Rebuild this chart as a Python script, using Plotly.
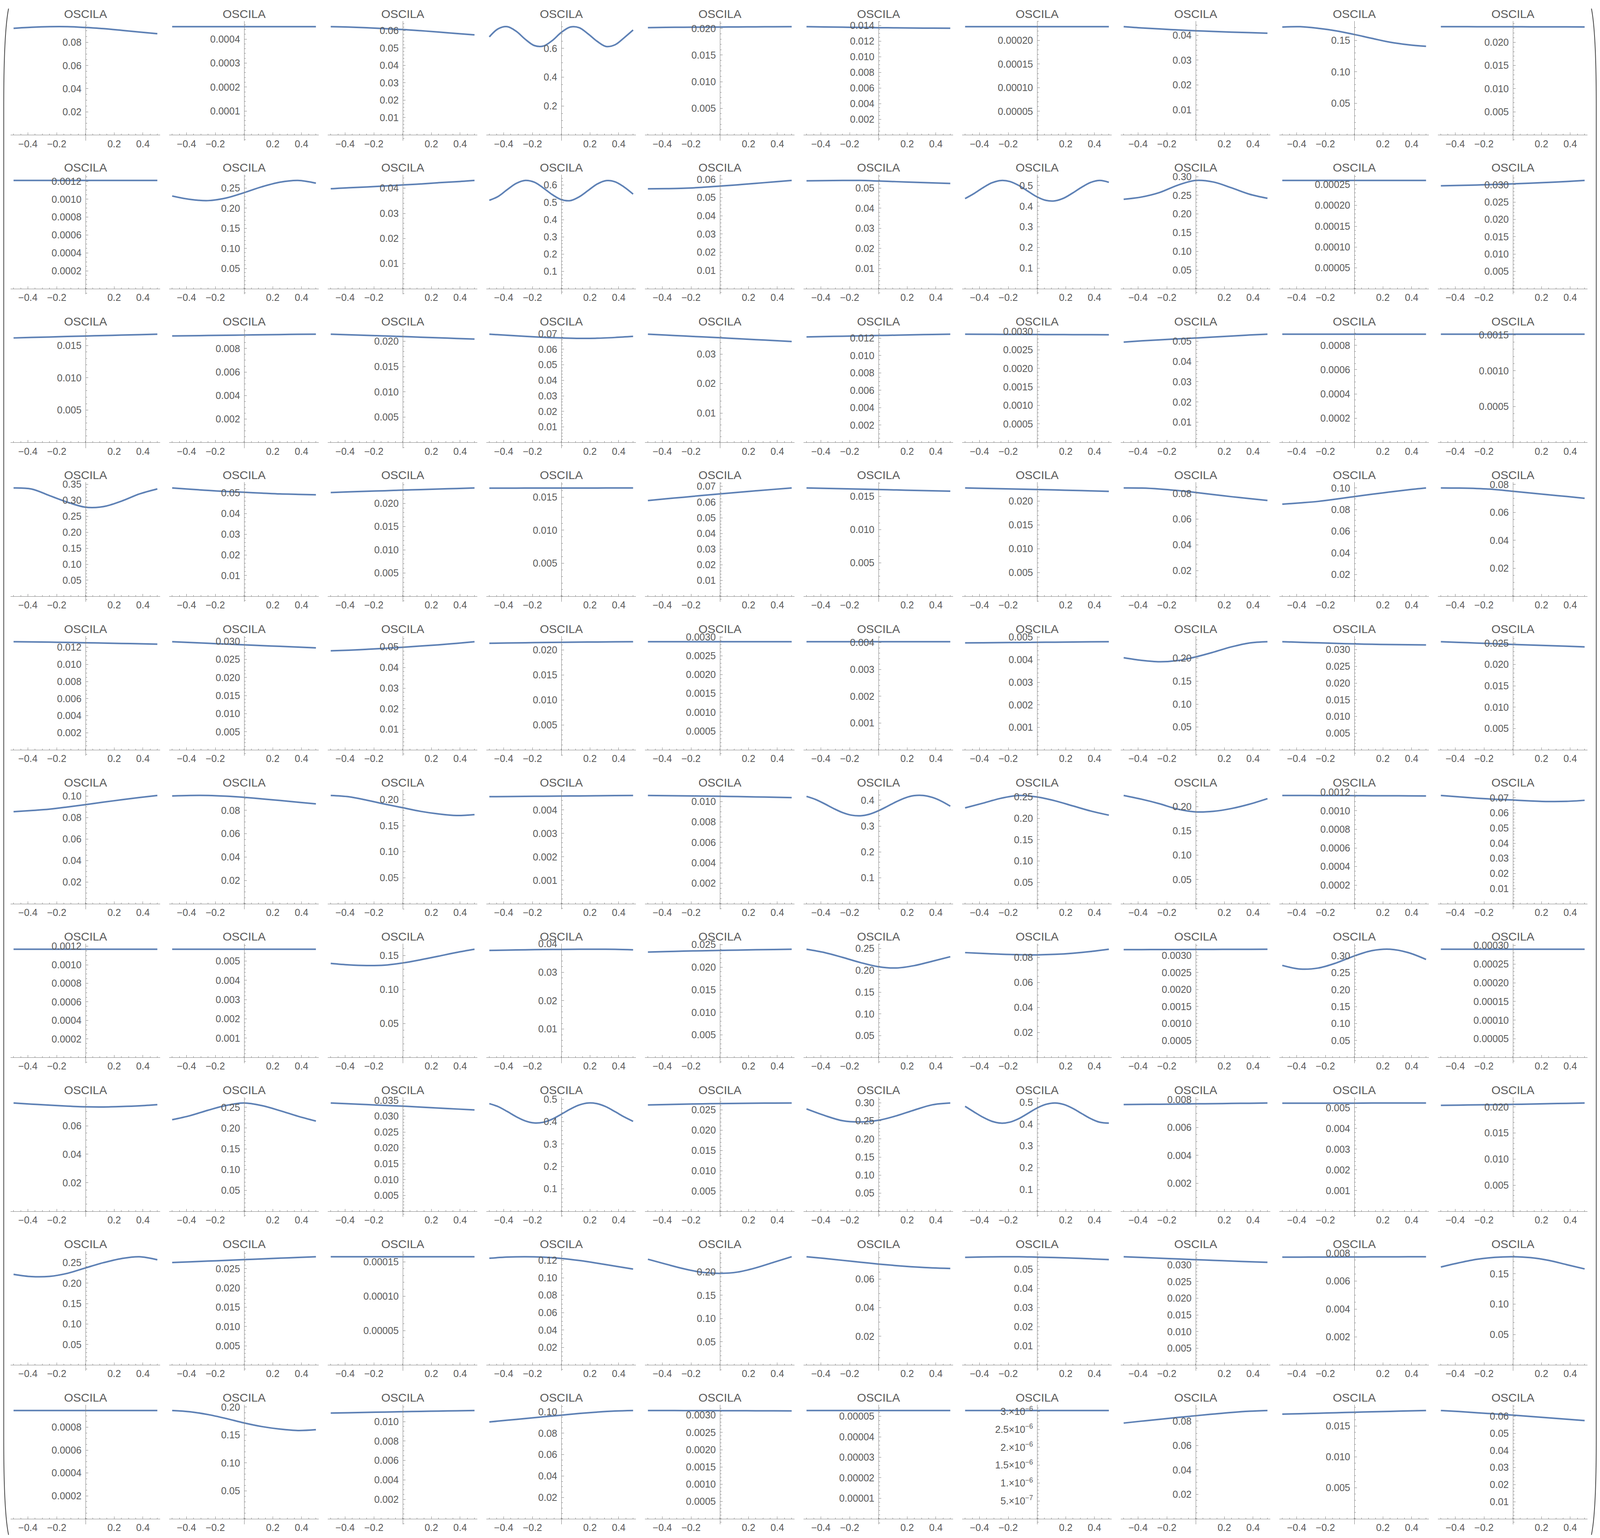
import math
import plotly.graph_objects as go

# sample positions on the x axis
X9 = [-0.5, -0.375, -0.25, -0.125, 0.0, 0.125, 0.25, 0.375, 0.5]
X17 = [-0.5, -0.4375, -0.375, -0.3125, -0.25, -0.1875, -0.125, -0.0625, 0.0,
       0.0625, 0.125, 0.1875, 0.25, 0.3125, 0.375, 0.4375, 0.5]

# curve values, one list per panel, one name per row
curves_row1 = [
    [0.0922, 0.0931, 0.0936, 0.0936, 0.0929, 0.0919, 0.0905, 0.0890, 0.0875],
    [0.000452, 0.000452, 0.000452, 0.000452, 0.000452, 0.000452, 0.000452, 0.000452, 0.000452],
    [0.0623, 0.0621, 0.0617, 0.0612, 0.0607, 0.0600, 0.0592, 0.0584, 0.0576],
    [0.680, 0.7367, 0.7506, 0.7185, 0.6633, 0.6200, 0.6160, 0.6542, 0.7104,
     0.7481, 0.7439, 0.7002, 0.6491, 0.6134, 0.6253, 0.6736, 0.7275],
    [0.02015, 0.02020, 0.02023, 0.02025, 0.02026, 0.02028, 0.02030, 0.02032, 0.02033],
    [0.01385, 0.01382, 0.01379, 0.01375, 0.01372, 0.01370, 0.01368, 0.01366, 0.01365],
    [0.000229, 0.000229, 0.000229, 0.000229, 0.000229, 0.000229, 0.000229, 0.000229, 0.000229],
    [0.0434, 0.0429, 0.0425, 0.0421, 0.04175, 0.0415, 0.0412, 0.0410, 0.0408],
    [0.1710, 0.1716, 0.1690, 0.1650, 0.1593, 0.1530, 0.1470, 0.1430, 0.1405],
    [0.02338, 0.02338, 0.02337, 0.02336, 0.02336, 0.02335, 0.02334, 0.02334, 0.02333],
]
curves_row2 = [
    [0.00121, 0.00121, 0.00121, 0.00121, 0.00121, 0.00121, 0.00121, 0.00121, 0.00121],
    [0.2304, 0.2220, 0.2190, 0.2255, 0.2387, 0.2534, 0.2647, 0.2691, 0.2623],
    [0.0398, 0.0402, 0.0405, 0.0409, 0.0413, 0.0417, 0.0422, 0.0426, 0.0431],
    [0.512, 0.535, 0.574, 0.610, 0.627, 0.617, 0.584, 0.545, 0.516,
     0.510, 0.532, 0.569, 0.606, 0.626, 0.619, 0.589, 0.548],
    [0.0548, 0.0549, 0.0551, 0.0556, 0.0563, 0.0570, 0.0578, 0.0586, 0.0594],
    [0.0536, 0.0537, 0.0538, 0.0538, 0.0535, 0.0532, 0.0529, 0.0526, 0.0523],
    [0.437, 0.4615, 0.490, 0.5138, 0.5247, 0.5197, 0.500, 0.4725, 0.4456,
     0.4283, 0.4262, 0.4397, 0.465, 0.4929, 0.5158, 0.525, 0.516],
    [0.2394, 0.2455, 0.2575, 0.2770, 0.2898, 0.2855, 0.2700, 0.2530, 0.2420],
    [0.00026, 0.00026, 0.00026, 0.00026, 0.00026, 0.00026, 0.00026, 0.00026, 0.00026],
    [0.02971, 0.02983, 0.02995, 0.03011, 0.03029, 0.03048, 0.03070, 0.03096, 0.03126],
]
curves_row3 = [
    [0.01616, 0.01624, 0.01631, 0.01639, 0.01646, 0.01653, 0.01660, 0.01667, 0.01674],
    [0.00907, 0.00909, 0.00911, 0.00913, 0.00915, 0.00917, 0.00919, 0.00921, 0.00922],
    [0.02141, 0.02130, 0.02118, 0.02106, 0.02094, 0.02082, 0.02069, 0.02057, 0.02044],
    [0.0697, 0.0690, 0.0683, 0.0677, 0.0673, 0.0670, 0.0671, 0.0676, 0.0683],
    [0.03677, 0.03647, 0.03617, 0.03587, 0.03557, 0.03525, 0.03493, 0.03461, 0.03429],
    [0.01214, 0.01218, 0.01222, 0.01226, 0.01230, 0.01234, 0.01238, 0.01242, 0.01245],
    [0.002925, 0.002923, 0.002921, 0.002919, 0.002917, 0.002915, 0.002913, 0.002911, 0.002909],
    [0.0496, 0.0502, 0.0507, 0.0512, 0.0516, 0.0521, 0.0526, 0.0531, 0.0535],
    [0.000892, 0.000892, 0.000892, 0.000892, 0.000892, 0.000892, 0.000892, 0.000892, 0.000892],
    [0.00151, 0.00151, 0.00151, 0.00151, 0.00151, 0.00151, 0.00151, 0.00151, 0.00151],
]
curves_row4 = [
    [0.3389, 0.3355, 0.3150, 0.2945, 0.2786, 0.2805, 0.2975, 0.3200, 0.3358],
    [0.0524, 0.0518, 0.0512, 0.0507, 0.0503, 0.0499, 0.0495, 0.0493, 0.0491],
    [0.02234, 0.02247, 0.02260, 0.02272, 0.02285, 0.02297, 0.02309, 0.02320, 0.02332],
    [0.01637, 0.01637, 0.01638, 0.01638, 0.01638, 0.01639, 0.01639, 0.01640, 0.01640],
    [0.0610, 0.0621, 0.0631, 0.0642, 0.0652, 0.0662, 0.0672, 0.0681, 0.0690],
    [0.01628, 0.01622, 0.01616, 0.01610, 0.01604, 0.01598, 0.01592, 0.01586, 0.01580],
    [0.02279, 0.02271, 0.02262, 0.02254, 0.02246, 0.02237, 0.02228, 0.02218, 0.02208],
    [0.0843, 0.0842, 0.0835, 0.0823, 0.0808, 0.0791, 0.0775, 0.0760, 0.0746],
    [0.0850, 0.0862, 0.0876, 0.0897, 0.0920, 0.0942, 0.0963, 0.0983, 0.1000],
    [0.0775, 0.0774, 0.0771, 0.0764, 0.0751, 0.0739, 0.0726, 0.0714, 0.0701],
]
curves_row5 = [
    [0.01265, 0.01263, 0.01260, 0.01257, 0.01253, 0.01249, 0.01245, 0.01241, 0.01237],
    [0.02989, 0.02967, 0.02945, 0.02923, 0.02902, 0.02881, 0.02861, 0.02840, 0.02820],
    [0.0481, 0.0484, 0.0488, 0.0493, 0.0498, 0.0504, 0.0510, 0.0517, 0.0525],
    [0.02131, 0.02137, 0.02142, 0.02147, 0.02151, 0.02155, 0.02158, 0.02161, 0.02163],
    [0.002874, 0.002874, 0.002874, 0.002874, 0.002874, 0.002874, 0.002874, 0.002874, 0.002874],
    [0.00403, 0.00403, 0.00403, 0.00403, 0.00403, 0.00403, 0.00403, 0.00403, 0.00403],
    [0.004745, 0.004752, 0.004758, 0.004765, 0.004772, 0.004778, 0.004785, 0.004792, 0.004798],
    [0.2013, 0.1955, 0.1925, 0.1950, 0.2030, 0.2135, 0.2250, 0.2335, 0.2362],
    [0.03237, 0.03220, 0.03204, 0.03187, 0.03172, 0.03160, 0.03151, 0.03146, 0.03142],
    [0.02532, 0.02517, 0.02501, 0.02485, 0.02468, 0.02454, 0.02440, 0.02426, 0.02412],
]
curves_row6 = [
    [0.0855, 0.0866, 0.0879, 0.0899, 0.0921, 0.0944, 0.0966, 0.0987, 0.1006],
    [0.0924, 0.0928, 0.0928, 0.0922, 0.0912, 0.0899, 0.0885, 0.0870, 0.0856],
    [0.2080, 0.2055, 0.1990, 0.1915, 0.1845, 0.1775, 0.1725, 0.1695, 0.1712],
    [0.004566, 0.004572, 0.004578, 0.004585, 0.004591, 0.004598, 0.004604, 0.004611, 0.004617],
    [0.01059, 0.01057, 0.01055, 0.01053, 0.01051, 0.01048, 0.01045, 0.01042, 0.01038],
    [0.4148, 0.4031, 0.3864, 0.3682, 0.3524, 0.3422, 0.3399, 0.3459, 0.3592,
     0.3763, 0.3943, 0.4092, 0.4178, 0.4183, 0.4108, 0.3965, 0.3770],
    [0.2245, 0.2355, 0.2470, 0.2535, 0.2500, 0.2410, 0.2290, 0.2170, 0.2074],
    [0.2232, 0.2154, 0.2061, 0.1951, 0.1894, 0.1906, 0.1963, 0.2053, 0.2167],
    [0.001165, 0.001165, 0.001164, 0.001164, 0.001163, 0.001162, 0.001162, 0.001161, 0.00116],
    [0.0716, 0.0707, 0.0698, 0.0691, 0.0686, 0.0680, 0.0676, 0.0677, 0.0684],
]
curves_row7 = [
    [0.001168, 0.001168, 0.001168, 0.001168, 0.001168, 0.001168, 0.001168, 0.001168, 0.001168],
    [0.00561, 0.00561, 0.00561, 0.00561, 0.00561, 0.00561, 0.00561, 0.00561, 0.00561],
    [0.1384, 0.1362, 0.1352, 0.1358, 0.1390, 0.1437, 0.1490, 0.1545, 0.1592],
    [0.03769, 0.03780, 0.03790, 0.03798, 0.03804, 0.03809, 0.03810, 0.03805, 0.03790],
    [0.02337, 0.02347, 0.02357, 0.02365, 0.02373, 0.02380, 0.02387, 0.02393, 0.02399],
    [0.2486, 0.2410, 0.2300, 0.2180, 0.2085, 0.2055, 0.2110, 0.2210, 0.2314],
    [0.0839, 0.0832, 0.0826, 0.0822, 0.0821, 0.0825, 0.0834, 0.0848, 0.0866],
    [0.003174, 0.003175, 0.003177, 0.003178, 0.003180, 0.003181, 0.003183, 0.003184, 0.003186],
    [0.2719, 0.2611, 0.2641, 0.2791, 0.2996, 0.3155, 0.3196, 0.3098, 0.2895],
    [0.00029, 0.00029, 0.00029, 0.00029, 0.00029, 0.00029, 0.00029, 0.00029, 0.00029],
]
curves_row8 = [
    [0.0760, 0.0752, 0.0745, 0.0738, 0.0733, 0.0732, 0.0735, 0.0740, 0.0748],
    [0.2202, 0.2300, 0.2430, 0.2545, 0.2604, 0.2540, 0.2420, 0.2285, 0.2169],
    [0.03419, 0.03393, 0.03368, 0.03343, 0.03319, 0.03289, 0.03259, 0.03229, 0.03200],
    [0.4810, 0.4672, 0.4456, 0.4223, 0.4038, 0.3946, 0.3975, 0.4116, 0.4332,
     0.4563, 0.4748, 0.4838, 0.4807, 0.4667, 0.4448, 0.4217, 0.4018],
    [0.02622, 0.02632, 0.02641, 0.02649, 0.02656, 0.02661, 0.02665, 0.02668, 0.02670],
    [0.2830, 0.2650, 0.2505, 0.2470, 0.2516, 0.2640, 0.2800, 0.2945, 0.2995],
    [0.4820, 0.4562, 0.4317, 0.4130, 0.4047, 0.4096, 0.4260, 0.4498, 0.4741,
     0.4912, 0.4974, 0.4903, 0.4723, 0.4482, 0.4250, 0.4089, 0.4048],
    [0.007645, 0.00766, 0.00767, 0.00768, 0.0077, 0.00771, 0.00773, 0.00774, 0.00776],
    [0.00522, 0.00522, 0.00522, 0.00522, 0.00522, 0.00523, 0.00523, 0.00523, 0.00523],
    [0.02030, 0.02035, 0.02040, 0.02044, 0.02049, 0.02055, 0.02062, 0.02069, 0.02076],
]
curves_row9 = [
    [0.2216, 0.2160, 0.2165, 0.2240, 0.2372, 0.2500, 0.2600, 0.2645, 0.2571],
    [0.02661, 0.02680, 0.02699, 0.02718, 0.02737, 0.02756, 0.02775, 0.02793, 0.02812],
    [0.0001573, 0.0001573, 0.0001573, 0.0001573, 0.0001573, 0.0001573, 0.0001573, 0.0001573, 0.0001573],
    [0.1224, 0.1237, 0.1241, 0.1236, 0.1222, 0.1198, 0.1167, 0.1133, 0.1100],
    [0.2275, 0.2170, 0.2070, 0.1995, 0.1972, 0.2000, 0.2090, 0.2210, 0.2329],
    [0.0756, 0.0744, 0.0731, 0.0718, 0.0705, 0.0694, 0.0685, 0.0678, 0.0674],
    [0.0563, 0.0565, 0.0566, 0.0566, 0.0564, 0.0562, 0.0559, 0.0555, 0.0551],
    [0.03244, 0.03222, 0.03200, 0.03178, 0.03157, 0.03136, 0.03115, 0.03095, 0.03076],
    [0.00771, 0.007714, 0.007718, 0.007721, 0.007725, 0.007729, 0.007732, 0.007736, 0.00774],
    [0.1611, 0.1680, 0.1738, 0.1770, 0.1780, 0.1765, 0.1720, 0.1650, 0.1580],
]
curves_row10 = [
    [0.000946, 0.000946, 0.000946, 0.000946, 0.000946, 0.000946, 0.000946, 0.000946, 0.000946],
    [0.1938, 0.1915, 0.1865, 0.1795, 0.1716, 0.1650, 0.1605, 0.1580, 0.1595],
    [0.01088, 0.01091, 0.01095, 0.01098, 0.01102, 0.01105, 0.01108, 0.01111, 0.01114],
    [0.0906, 0.0922, 0.0938, 0.0954, 0.0969, 0.0985, 0.0998, 0.1008, 0.1013],
    [0.003136, 0.003135, 0.003134, 0.003133, 0.003131, 0.00313, 0.003128, 0.003127, 0.003125],
    [5.284e-05, 5.284e-05, 5.284e-05, 5.284e-05, 5.284e-05, 5.284e-05, 5.284e-05, 5.284e-05, 5.284e-05],
    [3.03e-06, 3.03e-06, 3.03e-06, 3.03e-06, 3.03e-06, 3.03e-06, 3.03e-06, 3.03e-06, 3.03e-06],
    [0.0784, 0.0800, 0.0815, 0.0830, 0.0844, 0.0858, 0.0871, 0.0881, 0.0887],
    [0.01692, 0.01699, 0.01707, 0.01715, 0.01723, 0.01730, 0.01737, 0.01744, 0.01751],
    [0.0634, 0.0628, 0.0621, 0.0614, 0.0607, 0.0599, 0.0591, 0.0583, 0.0575],
]

# spacing between labelled y ticks in each panel
ystep_rows = [
    [0.02, 0.0001, 0.01, 0.2, 0.005, 0.002, 0.00005, 0.01, 0.05, 0.005],
    [0.0002, 0.05, 0.01, 0.1, 0.01, 0.01, 0.1, 0.05, 0.00005, 0.005],
    [0.005, 0.002, 0.005, 0.01, 0.01, 0.002, 0.0005, 0.01, 0.0002, 0.0005],
    [0.05, 0.01, 0.005, 0.005, 0.01, 0.005, 0.005, 0.02, 0.02, 0.02],
    [0.002, 0.005, 0.01, 0.005, 0.0005, 0.001, 0.001, 0.05, 0.005, 0.005],
    [0.02, 0.02, 0.05, 0.001, 0.002, 0.1, 0.05, 0.05, 0.0002, 0.01],
    [0.0002, 0.001, 0.05, 0.01, 0.005, 0.05, 0.02, 0.0005, 0.05, 0.00005],
    [0.02, 0.05, 0.005, 0.1, 0.005, 0.05, 0.1, 0.002, 0.001, 0.005],
    [0.05, 0.005, 0.00005, 0.02, 0.05, 0.02, 0.01, 0.005, 0.002, 0.05],
    [0.0002, 0.05, 0.002, 0.02, 0.0005, 0.00001, 5e-7, 0.02, 0.005, 0.01],
]

x_tickvals = [-0.4, -0.2, 0.2, 0.4]
x_ticktext = ["\u22120.4", "\u22120.2", "0.2", "0.4"]
panel_title = "OSCILA"

curve_rows = [curves_row1, curves_row2, curves_row3, curves_row4, curves_row5,
              curves_row6, curves_row7, curves_row8, curves_row9, curves_row10]

# layout measured on the 5287 x 3936 reference; the width follows the window
W, H, OFF = 5271, 3920, 8
COL0, COL_PITCH, PANEL_W = 33, 524.5, 494.5
ROW0, ROW_PITCH, PANEL_H = 40, 394.9, 307
PAD = 0.052
BLUE = "#5E81B5"
TXT = "#5a5a5a"
AXC = "#808080"
FONT = "Liberation Sans, Arial, sans-serif"


def fx(p):
    return (p - OFF) / W


def fy(p):
    return 1 - (p - OFF) / H


def decimals(step):
    s = f"{step:.10f}".rstrip("0")
    return len(s.split(".")[1])


def tick_label(v, step):
    if step < 1e-5:
        e = int(math.floor(math.log10(v) + 1e-9))
        m = f"{v / 10 ** e:.1f}".rstrip("0")
        return f"{m}\u00d710<sup>\u2212{-e}</sup>"
    return f"{v:.{decimals(step)}f}"


fig = go.Figure()
axes = {}
notes = []

for r in range(10):
    for c in range(10):
        n = r * 10 + c + 1
        ys = curve_rows[r][c]
        xs = X17 if len(ys) == 17 else X9
        fig.add_trace(go.Scatter(
            x=xs, y=ys, mode="lines",
            line=dict(color=BLUE, width=4, shape="spline", smoothing=1),
            xaxis=f"x{n}", yaxis=f"y{n}",
            showlegend=False, hoverinfo="skip",
        ))

        left = COL0 + COL_PITCH * c
        right = left + PANEL_W
        top = ROW0 + ROW_PITCH * r
        bottom = top + PANEL_H

        ym = max(ys)
        lo, hi = -PAD * ym, (1 + PAD) * ym
        step = ystep_rows[r][c]
        nt = int(hi / step + 1e-9)
        yvals = [k * step for k in range(1, nt + 1)]
        ytext = [tick_label(v, step) for v in yvals]
        lead = int(f"{step:e}"[0])
        sub = 4 if lead == 2 else 5

        dom_x = [fx(left), fx(right)]
        dom_y = [fy(bottom), fy(top)]
        zero_y = dom_y[0] + (0 - lo) / (hi - lo) * (dom_y[1] - dom_y[0])

        axes["xaxis" if n == 1 else f"xaxis{n}"] = dict(
            domain=dom_x, range=[-0.52, 0.52], anchor="free", position=zero_y,
            showgrid=False, zeroline=False, showline=True, linecolor=AXC, linewidth=1.3,
            tickmode="array", tickvals=x_tickvals, ticktext=x_ticktext,
            ticks="inside", ticklen=6, tickwidth=1, tickcolor=AXC,
            minor=dict(ticks="inside", dtick=0.05, tick0=0, ticklen=3, tickwidth=1, tickcolor=AXC),
            tickfont=dict(family=FONT, size=25, color=TXT), ticklabelstandoff=0,
            fixedrange=True,
        )
        axes["yaxis" if n == 1 else f"yaxis{n}"] = dict(
            domain=dom_y, range=[lo, hi], anchor="free", position=(dom_x[0] + dom_x[1]) / 2,
            showgrid=False, zeroline=False, showline=True, linecolor=AXC, linewidth=1.3,
            tickmode="array", tickvals=yvals, ticktext=ytext,
            ticks="inside", ticklen=6, tickwidth=1, tickcolor=AXC,
            minor=dict(ticks="inside", dtick=step / sub, tick0=0, ticklen=3, tickwidth=1, tickcolor=AXC),
            tickfont=dict(family=FONT, size=25, color=TXT), ticklabelstandoff=5,
            fixedrange=True,
        )
        notes.append(dict(
            text=panel_title, x=(dom_x[0] + dom_x[1]) / 2, y=fy(top - 18.5),
            xref="paper", yref="paper", xanchor="center", yanchor="middle",
            showarrow=False, font=dict(family=FONT, size=30, color=TXT),
        ))


def paren(x_end, x_side):
    pts = [(x_end, 8), (x_side, 70), (x_side, 260), (x_side, 3680), (x_side, 3870), (x_end, 3928)]
    p = [(fx(a), fy(b)) for a, b in pts]
    return (f"M {p[0][0]} {p[0][1]} Q {p[1][0]} {p[1][1]} {p[2][0]} {p[2][1]} "
            f"L {p[3][0]} {p[3][1]} Q {p[4][0]} {p[4][1]} {p[5][0]} {p[5][1]}")


brackets = [
    dict(type="path", xref="paper", yref="paper", path=paren(26, 10),
         line=dict(color="#444444", width=2)),
    dict(type="path", xref="paper", yref="paper", path=paren(5261, 5277),
         line=dict(color="#444444", width=2)),
]

fig.update_layout(
    height=H,
    autosize=True,
    margin=dict(l=0, r=0, t=0, b=0),
    paper_bgcolor="white", plot_bgcolor="white",
    font=dict(family=FONT, color=TXT),
    annotations=notes, shapes=brackets,
    **axes,
)

fig.write_html("out.html", default_width="100%")
